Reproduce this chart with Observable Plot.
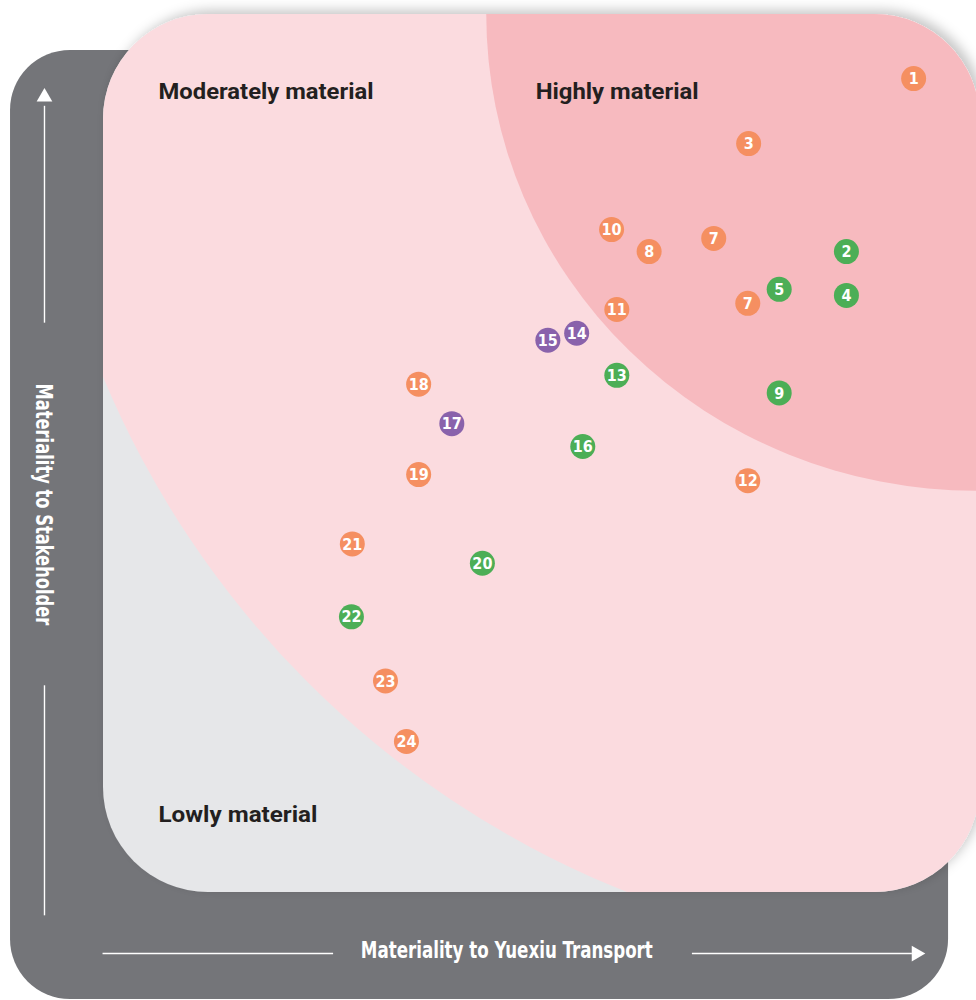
<!DOCTYPE html>
<html>
<head>
<meta charset="utf-8">
<script src="https://cdn.jsdelivr.net/npm/d3@7"></script>
<script src="https://cdn.jsdelivr.net/npm/@observablehq/plot@0.6"></script>
<style>
  html, body { margin: 0; padding: 0; background: #ffffff; }
  #chart svg { display: block; overflow: visible; }
</style>
</head>
<body>
<div id="chart"></div>
<script>
const issueIds = ["1","3","10","8","7","2","5","4","7","11","15","14","13","18","9","17","16","19","12","21","20","22","23","24"];
const transportScore = [92.8,73.9,58.2,62.5,69.9,85.1,77.4,85.1,73.8,58.8,50.9,54.2,58.8,36.1,77.4,39.9,54.9,36.1,73.8,28.5,43.4,28.4,32.3,34.7];
const stakeholderScore = [92.7,85.3,75.5,73.0,74.5,73.0,68.7,68.0,67.1,66.4,62.9,63.7,58.9,57.9,56.9,53.4,50.8,47.6,46.9,39.7,37.5,31.4,24.1,17.2];
const issueGroup = ["Social","Social","Social","Social","Social","Environmental","Environmental","Environmental","Social","Social","Governance","Governance","Environmental","Social","Environmental","Governance","Environmental","Social","Social","Social","Environmental","Environmental","Social","Social"];

const groupNames = ["Social","Environmental","Governance"];
const groupColors = ["#f58f61","#4cae56","#8962ab"];

const regionNames = ["Moderately material","Highly material","Lowly material"];
const regionLabelX = [6.3, 49.5, 6.3];
const regionLabelY = [91.2, 91.2, 8.9];

// zone boundaries: ellipses centred on the top-right corner (score 100,100)
const zoneNames = ["Moderate zone","High zone"];
const zoneRadiusX = [108.3, 56.1];
const zoneRadiusY = [107.6, 54.3];
const zoneColors = ["#fbdbdf","#f7babf"];

const xAxisTitle = "Materiality to Yuexiu Transport";
const yAxisTitle = "Materiality to Stakeholder";

const issues = issueIds.map((id, i) => ({
  id, x: transportScore[i], y: stakeholderScore[i], group: issueGroup[i]
}));
const regions = regionNames.map((name, i) => ({name, x: regionLabelX[i], y: regionLabelY[i]}));
const zones = zoneNames.map((name, i) => ({name, rx: zoneRadiusX[i], ry: zoneRadiusY[i], color: zoneColors[i]}));

// ---- layout (decoration) ----
const L = {
  outer: {x1: -10.65, x2: 96.8, y1: -12.2, y2: 95.9, r: 60},
  card: {x1: 0, x2: 100.4, y1: 0, y2: 100, r: 105},
  axisY: {x: -6.76, top: 91.1, seg1End: 64.9, seg2Start: 23.6, bottom: -2.6, labelY: 44.2},
  axisX: {y: -6.95, left: -0.11, seg1End: 26.3, seg2Start: 67.4, right: 92.6, labelX: 46.2}
};
// rendered text widths in the reference (px)
const textWidths = new Map([
  [xAxisTitle, 292], [yAxisTitle, 242],
  ["Moderately material", 215], ["Highly material", 163], ["Lowly material", 159]
]);

const condensed = "'Liberation Sans Narrow', 'DejaVu Sans Condensed', 'Roboto', sans-serif";

// custom background mark that uses Plot's scales
function background(index, scales) {
  const {x, y} = scales;
  const g = d3.create("svg:g");
  const o = L.outer;
  g.append("rect")
    .attr("x", x(o.x1)).attr("y", y(o.y2))
    .attr("width", x(o.x2) - x(o.x1)).attr("height", y(o.y1) - y(o.y2))
    .attr("rx", o.r).attr("ry", o.r)
    .attr("fill", "#747579");
  const c = L.card;
  const cx = x(c.x1), cy = y(c.y2), cw = x(c.x2) - x(c.x1), ch = y(c.y1) - y(c.y2);
  const defs = g.append("defs");
  defs.append("clipPath").attr("id", "card-clip")
    .append("rect").attr("x", cx).attr("y", cy).attr("width", cw).attr("height", ch)
    .attr("rx", c.r).attr("ry", c.r);
  const f = defs.append("filter").attr("id", "card-shadow")
    .attr("x", "-10%").attr("y", "-10%").attr("width", "120%").attr("height", "120%");
  f.append("feDropShadow").attr("dx", 5).attr("dy", -4).attr("stdDeviation", 6)
    .attr("flood-color", "#000").attr("flood-opacity", 0.22);
  g.append("rect")
    .attr("x", cx).attr("y", cy).attr("width", cw).attr("height", ch)
    .attr("rx", c.r).attr("ry", c.r)
    .attr("fill", "#e6e7e9")
    .attr("filter", "url(#card-shadow)");
  const inner = g.append("g").attr("clip-path", "url(#card-clip)");
  const ox = x(100), oy = y(100);
  for (const z of zones) {
    inner.append("ellipse")
      .attr("cx", ox).attr("cy", oy)
      .attr("rx", x(100 + z.rx) - ox)
      .attr("ry", y(100 - z.ry) - oy)
      .attr("fill", z.color);
  }
  return g.node();
}

const A = L.axisY, B = L.axisX;
const axisLines = [
  {x1: A.x, y1: A.top - 1.5, x2: A.x, y2: A.seg1End},
  {x1: A.x, y1: A.seg2Start, x2: A.x, y2: A.bottom},
  {x1: B.left, y1: B.y, x2: B.seg1End, y2: B.y},
  {x1: B.seg2Start, y1: B.y, x2: B.right, y2: B.y}
];
const arrowHeads = [
  {x: A.x, y: A.top - 0.5, rotate: 0},
  {x: B.right + 0.5, y: B.y, rotate: 90}
];

const chart = Plot.plot({
  width: 976,
  height: 1000,
  marginLeft: 103,
  marginRight: 0,
  marginTop: 14,
  marginBottom: 108,
  x: {domain: [0, 100], axis: null},
  y: {domain: [0, 100], axis: null},
  color: {domain: groupNames, range: groupColors},
  style: {background: "transparent", overflow: "visible"},
  marks: [
    background,
    Plot.link(axisLines, {x1: "x1", y1: "y1", x2: "x2", y2: "y2", stroke: "#ffffff", strokeWidth: 1.4}),
    Plot.dot(arrowHeads, {x: "x", y: "y", rotate: "rotate", symbol: "triangle2", r: 7.5, fill: "#ffffff"}),
    Plot.text([xAxisTitle], {x: B.labelX, y: B.y + 0.35, text: d => d, fill: "#ffffff",
      fontSize: 23.5, fontWeight: "bold", fontFamily: condensed}),
    Plot.text([yAxisTitle], {x: A.x - 0.1, y: A.labelY, text: d => d, rotate: 90, fill: "#ffffff",
      fontSize: 23.5, fontWeight: "bold", fontFamily: condensed}),
    Plot.text(regions, {x: "x", y: "y", text: "name", textAnchor: "start", fill: "#231f20",
      fontSize: 22.5, fontWeight: "bold", fontFamily: "Roboto, 'Open Sans', sans-serif"}),
    Plot.dot(issues, {x: "x", y: "y", fill: "group", r: 12.5}),
    Plot.text(issues, {x: "x", y: "y", text: "id", fill: "#ffffff", fontSize: 16,
      fontWeight: "bold", fontFamily: condensed, dy: 0.5})
  ]
});
// fit the titles to the reference widths
chart.querySelectorAll("text").forEach(t => {
  const w = textWidths.get(t.textContent);
  if (w) {
    t.setAttribute("textLength", w);
    t.setAttribute("lengthAdjust", "spacingAndGlyphs");
  }
});
document.getElementById("chart").appendChild(chart);
</script>
</body>
</html>
